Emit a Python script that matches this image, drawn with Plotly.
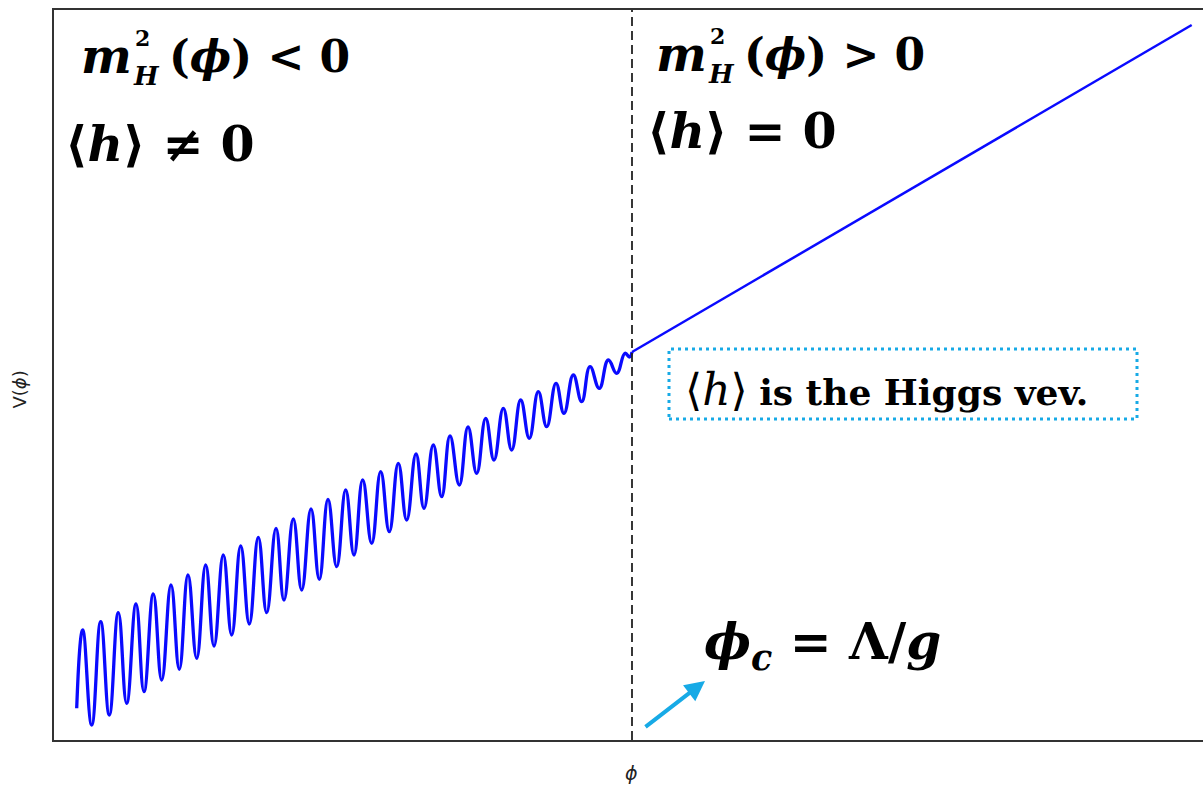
import plotly.graph_objects as go

# Relaxion-style potential: field phi (horizontal) vs potential V(phi) (vertical).
# Arbitrary units; phi_c marks where the Higgs mass parameter changes sign.
PHI_C = 578

# Oscillating branch (phi < phi_c): start, then alternating crests and troughs
osc_phi = [22.7, 28.7, 37.7, 46.7, 55.3, 64.3, 72.7, 82.0, 90.0, 99.3, 107.7,
           117.0, 125.3, 134.0, 142.7, 151.7, 160.0, 169.3, 177.7, 186.7, 195.3,
           204.3, 212.7, 222.0, 230.0, 239.3, 247.7, 257.0, 265.3, 274.0, 282.7,
           291.7, 300.0, 308.7, 317.7, 326.7, 335.3, 344.3, 352.7, 362.0, 370.0,
           379.3, 387.7, 396.0, 405.3, 414.0, 422.7, 431.7, 440.0, 449.3, 457.7,
           466.7, 475.3, 484.3, 492.7, 502.0, 510.0, 519.3, 527.7, 536.0, 545.3,
           554.3, 562.7, 571.0, 575.5, 578.0]
osc_V = [31.7, 110.0, 15.0, 118.3, 25.0, 127.3, 36.7, 136.0, 48.3, 146.0, 60.0,
         155.0, 70.7, 165.0, 81.7, 175.0, 94.0, 185.0, 105.0, 194.0, 116.0,
         202.7, 127.3, 211.7, 140.0, 221.0, 150.0, 231.0, 160.7, 240.5, 173.3,
         250.0, 185.0, 260.0, 196.7, 268.3, 208.3, 276.7, 220.0, 286.0, 231.7,
         295.0, 243.3, 304.0, 255.0, 313.0, 266.7, 321.7, 280.0, 331.7, 290.0,
         340.0, 301.7, 348.3, 313.3, 356.7, 326.7, 365.0, 338.3, 373.3, 351.7,
         380.0, 366.7, 386.7, 383.0, 388.0]

# Linear branch (phi > phi_c)
lin_phi = [578.0, 1137.7]
lin_V = [388.0, 715.0]

CURVE = "#0a0aff"
CYAN = "#17aae6"
MATH = "DejaVu Serif, serif"

fig = go.Figure()
fig.add_trace(go.Scatter(x=osc_phi, y=osc_V, mode="lines",
                         line=dict(color=CURVE, width=3.3, shape="spline", smoothing=1.3),
                         hoverinfo="skip", showlegend=False))
fig.add_trace(go.Scatter(x=lin_phi, y=lin_V, mode="lines",
                         line=dict(color=CURVE, width=2.5),
                         hoverinfo="skip", showlegend=False))

# critical field value
fig.add_shape(type="line", x0=PHI_C, x1=PHI_C, y0=0, y1=1, xref="x", yref="paper",
              line=dict(color="#222", width=1.8, dash="9px,5px"))

# dotted box around the vev note
fig.add_shape(type="rect", x0=615, x1=1083, y0=321, y1=391, xref="x", yref="y",
              line=dict(color=CYAN, width=3, dash="3px,4px"))


def txt(x, y, s, size, xanchor="left", yanchor="middle", family=MATH):
    fig.add_annotation(x=x, y=y, xref="x", yref="y", text=s, showarrow=False,
                       xanchor=xanchor, yanchor=yanchor, borderpad=0,
                       font=dict(family=family, size=size, color="black"))


def mass_label(x0, yc, sign):
    # m^2_H(phi) with stacked super/subscript
    txt(x0, yc, "<b><i>m</i></b>", 48)
    txt(x0 + 54, yc + 18, "<b>2</b>", 22)
    txt(x0 + 52, yc - 20, "<b><i>H</i></b>", 26)
    txt(x0 + 88, yc, "<b>(<i>ϕ</i>) " + sign + " 0</b>", 44)


mass_label(80 - 54, 740 - 56, "&lt;")
mass_label(655 - 54, 740 - 54, "&gt;")

txt(64 - 54, 740 - 144, "<b>⟨<i>h</i>⟩ ≠ 0</b>", 49)
txt(646 - 54, 740 - 131, "<b>⟨<i>h</i>⟩ = 0</b>", 49)

txt(684 - 54, 740 - 389,
    "<span style='font-size:44px'>⟨<i>h</i>⟩</span> <b>is the Higgs vev.</b>", 36)

txt(703 - 54, 740 - 645, "<b><i>ϕ</i><sub><i>c</i></sub> = Λ/<i>g</i></b>", 50)

# arrow pointing at phi_c
fig.add_annotation(x=651, y=59, xref="x", yref="y", ax=-61, ay=47, text="",
                   showarrow=True, arrowhead=2, arrowsize=1.0, arrowwidth=4,
                   arrowcolor=CYAN, standoff=0)

# axis titles (paper coordinates, they sit outside the plotting area)
fig.add_annotation(x=-0.0296, y=0.48, xref="paper", yref="paper", text="V(<i>ϕ</i>)",
                   textangle=-90, showarrow=False, xanchor="center", yanchor="middle",
                   font=dict(family="DejaVu Sans", size=18, color="#222"))
fig.add_annotation(x=0.503, y=-0.045, xref="paper", yref="paper", text="<i>ϕ</i>",
                   showarrow=False, xanchor="center", yanchor="middle",
                   font=dict(family="DejaVu Sans", size=19, color="#222"))

fig.update_layout(
    width=1203, height=786,
    margin=dict(l=54, r=0, t=10, b=46),
    paper_bgcolor="white", plot_bgcolor="white",
    xaxis=dict(range=[0, 1149], showline=True, mirror=True, linecolor="#333",
               linewidth=2, showgrid=False, zeroline=False, showticklabels=False,
               ticks=""),
    yaxis=dict(range=[0, 730], showline=True, mirror=False, linecolor="#333",
               linewidth=2, showgrid=False, zeroline=False, showticklabels=False,
               ticks=""),
)

fig.write_html("out.html")
